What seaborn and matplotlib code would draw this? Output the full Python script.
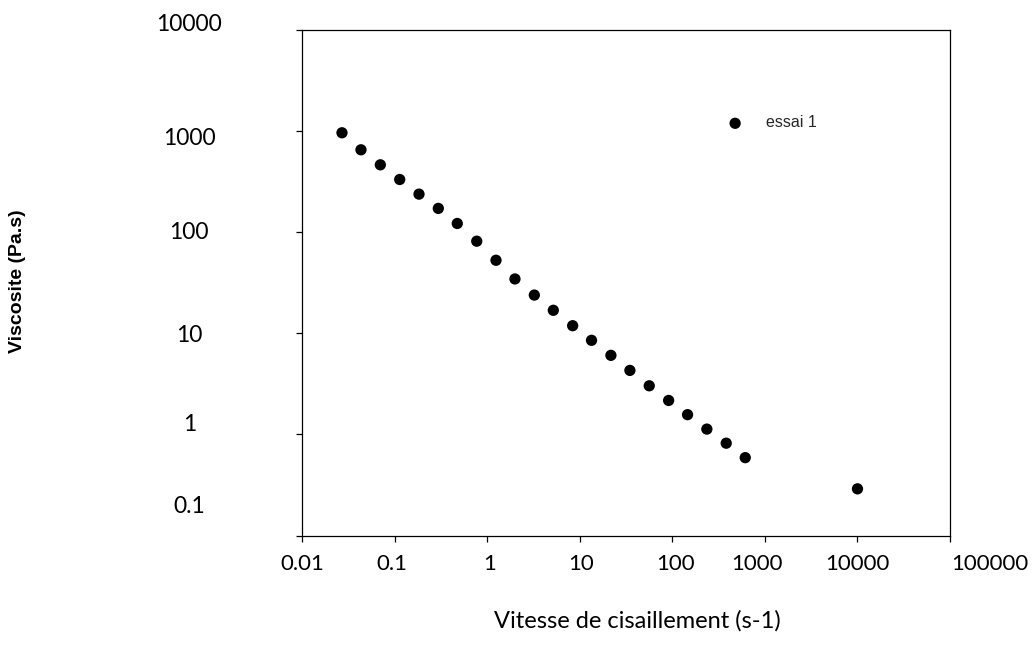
import numpy as np
import pandas as pd
import matplotlib
matplotlib.use("Agg")
import matplotlib.pyplot as plt
import seaborn as sns

# ---- data ----
shear_rate = [0.0270, 0.0433, 0.0701, 0.1135, 0.1834, 0.2965, 0.475, 0.771,
              1.245, 1.995, 3.23, 5.18, 8.38, 13.4, 21.7, 34.8, 56.3, 91.2,
              146, 236, 382, 613, 10000]
viscosity = [962, 653, 464, 332, 238, 172, 122, 81.5, 52.8, 34.5, 23.9, 16.9,
             11.9, 8.53, 6.06, 4.30, 3.03, 2.17, 1.57, 1.13, 0.82, 0.59, 0.29]
series_name = "essai 1"

x_ticks = [0.01, 0.1, 1, 10, 100, 1000, 10000, 100000]
x_tick_labels = ["0.01", "0.1", "1", "10", "100", "1000", "10000", "100000"]
y_ticks = [0.1, 1, 10, 100, 1000, 10000]
y_tick_labels = ["0.1", "1", "10", "100", "1000", "10000"]

x_title = "Vitesse de cisaillement (s-1)"
y_title = "Viscosite (Pa.s)"

# label placement (axes fractions) to mimic the reference's offset labels
x_label_pos = [0.0, 0.139, 0.290, 0.431, 0.577, 0.702, 0.857, 1.062]
y_label_pos = [0.057, 0.219, 0.396, 0.600, 0.786, 1.010]

df = pd.DataFrame({"x": shear_rate, "y": viscosity, "serie": series_name})

sns.set_style("white")
plt.rcParams["font.family"] = ["Lato", "DejaVu Sans"]

fig = plt.figure(figsize=(10.33, 6.61), dpi=100)
ax = fig.add_axes([0.2924, 0.1897, 0.6273, 0.765])

sns.scatterplot(data=df, x="x", y="y", color="black", s=66, edgecolor="none",
                label=series_name, ax=ax)

ax.set_xscale("log")
ax.set_yscale("log")
ax.set_xlim(x_ticks[0], x_ticks[-1])
ax.set_ylim(y_ticks[0], y_ticks[-1])
ax.set_xticks(x_ticks)
ax.set_yticks(y_ticks)
ax.minorticks_off()
ax.tick_params(axis="both", which="major", direction="out", length=4.5,
               width=0.9, color="black", labelbottom=False, labelleft=False,
               bottom=True, left=True)
ax.set_xlabel("")
ax.set_ylabel("")
for sp in ax.spines.values():
    sp.set_visible(True)
    sp.set_color("black")
    sp.set_linewidth(0.9)

for lab, xp in zip(x_tick_labels, x_label_pos):
    ax.text(xp, -0.056, lab, transform=ax.transAxes, ha="center", va="center",
            fontsize=16, color="black", clip_on=False)
for lab, yp in zip(y_tick_labels, y_label_pos):
    ax.text(-0.174, yp, lab, transform=ax.transAxes, ha="center", va="center",
            fontsize=16.5, color="black", clip_on=False)

fig.text(637 / 1033, 1 - 621 / 661, x_title, ha="center", va="center",
         fontsize=17, color="black")
fig.text(18 / 1033, 1 - 281 / 661, y_title, ha="center", va="center",
         rotation=90, fontsize=14, fontweight="bold",
         family=["Liberation Sans", "DejaVu Sans"], color="black")

leg = ax.legend(loc="center left", bbox_to_anchor=(0.656, 0.816), frameon=False,
                borderpad=0, borderaxespad=0, handlelength=1.0,
                handletextpad=1.44, prop={"family": "Liberation Sans", "size": 11.5})

fig.savefig("out.png", dpi=100, facecolor="white")
